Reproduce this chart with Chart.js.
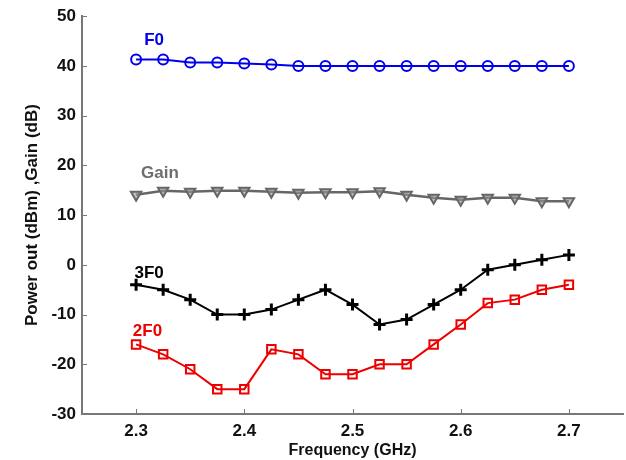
<!DOCTYPE html>
<html>
<head>
<meta charset="utf-8">
<script src="https://cdn.jsdelivr.net/npm/chart.js@4"></script>
<style>
  html, body { margin: 0; padding: 0; background: #fff; }
  #wrap { width: 626px; height: 460px; }
</style>
</head>
<body>
<div id="wrap"><canvas id="myChart" width="626" height="460"></canvas></div>
<script>
const freqs = [2.3, 2.325, 2.35, 2.375, 2.4, 2.425, 2.45, 2.475, 2.5, 2.525, 2.55, 2.575, 2.6, 2.625, 2.65, 2.675, 2.7];
const f0 = [41.3, 41.3, 40.7, 40.7, 40.5, 40.3, 40, 40, 40, 40, 40, 40, 40, 40, 40, 40, 40];
const gain = [14.1, 14.9, 14.7, 14.9, 14.9, 14.7, 14.5, 14.6, 14.6, 14.8, 14.1, 13.5, 13.1, 13.5, 13.5, 12.8, 12.8];
const f3 = [-4, -5, -7, -10, -10, -9, -7, -5, -8, -12, -11, -8, -5, -1, 0, 1, 2];
const f2 = [-16, -18, -21, -25, -25, -17, -18, -22, -22, -20, -20, -16, -12, -7.7, -7, -5, -4];
const xTicks = [2.3, 2.4, 2.5, 2.6, 2.7];
const yTicks = [-30, -20, -10, 0, 10, 20, 30, 40, 50];

const pts = (ys) => ys.map((y, i) => ({ x: freqs[i], y: y }));
const axisColor = "#777777";
const font = { family: "'Liberation Sans', Arial, sans-serif", weight: "bold" };

// series name tags, placed next to the first point of each curve
const tags = [
  { text: "F0", color: "#0000ee", x: 2.3166, y: 45.2 },
  { text: "Gain", color: "#6e6e6e", x: 2.322, y: 18.4 },
  { text: "3F0", color: "#000000", x: 2.312, y: -1.8 },
  { text: "2F0", color: "#ee0000", x: 2.3105, y: -13.4 },
];

const tagPlugin = {
  id: "tags",
  afterDatasetsDraw(chart) {
    const { ctx, scales } = chart;
    ctx.save();
    ctx.font = "bold 17px 'Liberation Sans', Arial, sans-serif";
    ctx.textAlign = "center";
    ctx.textBaseline = "middle";
    tags.forEach((t) => {
      ctx.fillStyle = t.color;
      ctx.fillText(t.text, scales.x.getPixelForValue(t.x), scales.y.getPixelForValue(t.y));
    });
    // inward tick marks
    ctx.strokeStyle = axisColor;
    ctx.lineWidth = 1;
    const a = chart.chartArea;
    yTicks.forEach((v) => {
      const y = Math.round(scales.y.getPixelForValue(v)) + 0.5;
      ctx.beginPath();
      ctx.moveTo(a.left, y);
      ctx.lineTo(a.left + 5, y);
      ctx.stroke();
    });
    xTicks.forEach((v) => {
      const x = Math.round(scales.x.getPixelForValue(v)) + 0.5;
      ctx.beginPath();
      ctx.moveTo(x, a.bottom);
      ctx.lineTo(x, a.bottom - 5);
      ctx.stroke();
    });
    ctx.restore();
  },
};

const ctx = document.getElementById("myChart");

const myChart = new Chart(ctx, {
  type: "scatter",
  data: {
    datasets: [
      {
        label: "F0",
        data: pts(f0),
        showLine: true,
        borderColor: "#0000ee",
        backgroundColor: "rgba(0,0,0,0)",
        borderWidth: 2,
        pointStyle: "circle",
        pointRadius: 5,
        pointBorderWidth: 2,
      },
      {
        label: "Gain",
        data: pts(gain),
        showLine: true,
        borderColor: "#666666",
        backgroundColor: "rgba(150,150,150,0.6)",
        borderWidth: 2.5,
        pointStyle: "triangle",
        rotation: 180,
        pointRadius: 6,
        pointBorderWidth: 2,
      },
      {
        label: "3F0",
        data: pts(f3),
        showLine: true,
        borderColor: "#000000",
        backgroundColor: "#000000",
        borderWidth: 2,
        pointStyle: "cross",
        pointRadius: 6,
        pointBorderWidth: 3,
      },
      {
        label: "2F0",
        data: pts(f2),
        showLine: true,
        borderColor: "#ee0000",
        backgroundColor: "rgba(0,0,0,0)",
        borderWidth: 2,
        pointStyle: "rect",
        pointRadius: 6,
        pointBorderWidth: 2,
      },
    ],
  },
  options: {
    responsive: false,
    animation: false,
    layout: { autoPadding: false, padding: { top: 14, right: 3, left: 0, bottom: 0 } },
    plugins: {
      legend: { display: false },
      tooltip: { enabled: false },
    },
    scales: {
      x: {
        type: "linear",
        min: 2.25,
        max: 2.75,
        afterBuildTicks: (s) => { s.ticks = xTicks.map((v) => ({ value: v })); },
        afterFit: (s) => { s.height = 46; },
        border: { display: true, color: axisColor, width: 2 },
        grid: { display: false, drawTicks: false },
        ticks: {
          color: "#111",
          font: { ...font, size: 17 },
          padding: 7,
          callback: (v) => v.toFixed(1),
        },
        title: {
          display: true,
          text: "Frequency (GHz)",
          color: "#111",
          font: { ...font, size: 16 },
          padding: { top: 0, bottom: 0 },
        },
      },
      y: {
        min: -30,
        max: 50,
        afterBuildTicks: (s) => { s.ticks = yTicks.map((v) => ({ value: v })); },
        afterFit: (s) => { s.width = 82; },
        border: { display: true, color: axisColor, width: 2 },
        grid: { display: false, drawTicks: false },
        ticks: {
          color: "#111",
          font: { ...font, size: 17 },
          padding: 6,
        },
        title: {
          display: true,
          text: "Power out (dBm) ,Gain (dB)",
          color: "#111",
          font: { ...font, size: 17 },
          padding: { top: 22, bottom: 0 },
        },
      },
    },
  },
  plugins: [tagPlugin],
});
</script>
</body>
</html>
